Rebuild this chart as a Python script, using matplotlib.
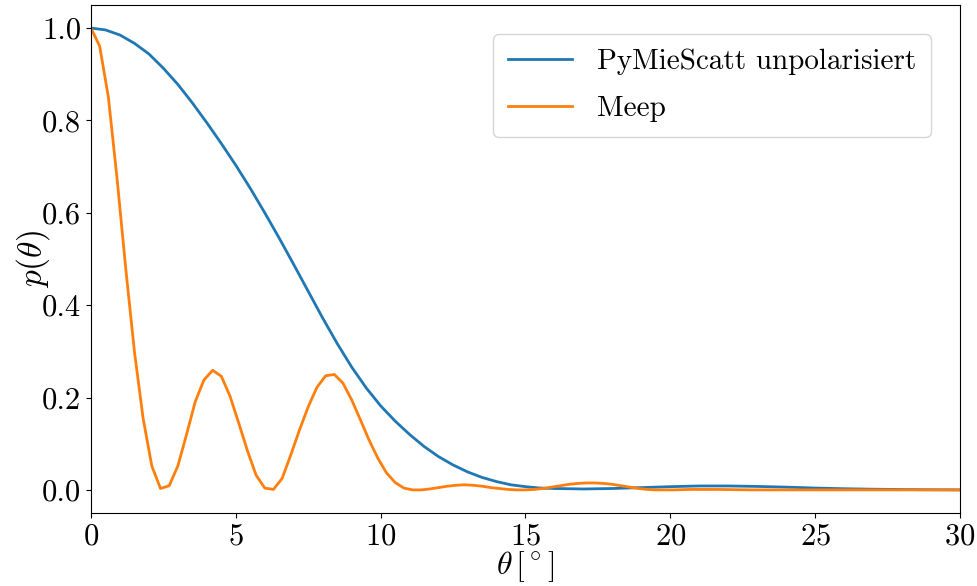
import numpy as np
import matplotlib
matplotlib.use("Agg")
import matplotlib.pyplot as plt

# PyMieScatt (unpolarised)
theta_mie = [0.0, 0.5, 1.0, 1.5, 2.0, 2.5, 3.0, 3.5, 4.0, 4.5, 5.0, 5.5, 6.0, 6.5,
             7.0, 7.5, 8.0, 8.5, 9.0, 9.5, 10.0, 10.5, 11.0, 11.5, 12.0, 12.5, 13.0,
             13.5, 14.0, 14.5, 15.0, 15.5, 16.0, 17.0, 18.0, 19.0, 20.0, 21.0, 22.0,
             23.0, 24.0, 25.0, 26.0, 27.0, 28.0, 29.0, 30.0]
p_mie = [1.000, 0.996, 0.985, 0.967, 0.944, 0.913, 0.878, 0.838, 0.795, 0.750, 0.703,
         0.653, 0.600, 0.545, 0.488, 0.430, 0.372, 0.317, 0.266, 0.221, 0.182, 0.149,
         0.120, 0.094, 0.072, 0.054, 0.039, 0.027, 0.018, 0.011, 0.007, 0.004, 0.003,
         0.002, 0.003, 0.005, 0.007, 0.0085, 0.0085, 0.0075, 0.006, 0.004, 0.0025,
         0.0015, 0.0008, 0.0003, 0.0]

# Meep, sampled every 0.3 degrees
theta_meep = [round(0.3 * i, 1) for i in range(101)]
p_meep = [1.000, 0.961, 0.851, 0.675, 0.480, 0.300, 0.155, 0.052, 0.003, 0.009,
          0.052, 0.120, 0.191, 0.238, 0.259, 0.246, 0.203, 0.145, 0.085, 0.032,
          0.004, 0.001, 0.025, 0.076, 0.130, 0.180, 0.222, 0.247, 0.250, 0.231,
          0.195, 0.152, 0.108, 0.069, 0.037, 0.016, 0.004, 0.000, 0.000, 0.002,
          0.005, 0.008, 0.010, 0.011, 0.010, 0.008, 0.005, 0.003, 0.001, 0.000,
          0.000, 0.001, 0.003, 0.006, 0.009, 0.012, 0.014, 0.015, 0.015, 0.014,
          0.012, 0.009, 0.006, 0.003, 0.001, 0.000, 0.000, 0.000, 0.0005, 0.001,
          0.001, 0.001, 0.001, 0.0008, 0.0005, 0.0003, 0.0, 0.0, 0.0, 0.0,
          0.0, 0.0, 0.0, 0.0, 0.0, 0.0, 0.0, 0.0, 0.0, 0.0,
          0.0, 0.0, 0.0, 0.0, 0.0, 0.0, 0.0, 0.0, 0.0, 0.0, 0.0]

plt.rcParams["font.family"] = "serif"
plt.rcParams["font.serif"] = ["cmr10"]
plt.rcParams["mathtext.fontset"] = "cm"
plt.rcParams["axes.formatter.use_mathtext"] = True
plt.rcParams["axes.unicode_minus"] = False

fig = plt.figure(figsize=(9.77, 5.86), dpi=100)
ax = fig.add_axes([0.0931, 0.1246, 0.8895, 0.8669])

ax.plot(theta_mie, p_mie, color="#1f77b4", linewidth=2, label="PyMieScatt unpolarisiert")
ax.plot(theta_meep, p_meep, color="#ff7f0e", linewidth=2, label="Meep")

ax.set_xlim(0, 30)
ax.set_ylim(-0.05, 1.05)
ax.set_xticks([0, 5, 10, 15, 20, 25, 30])
ax.set_yticks([0.0, 0.2, 0.4, 0.6, 0.8, 1.0])
ax.set_yticklabels(["0.0", "0.2", "0.4", "0.6", "0.8", "1.0"])
ax.tick_params(labelsize=22)
ax.set_xlabel(r"$\theta\,[^\circ]$", fontsize=23, labelpad=-1)
ax.set_ylabel(r"$p(\theta)$", fontsize=24, labelpad=-7)
ax.legend(loc="upper right", fontsize=21, borderaxespad=1.0, labelspacing=0.7,
          borderpad=0.5, handlelength=2.2, handletextpad=0.85)

fig.savefig("out.png", dpi=100)
